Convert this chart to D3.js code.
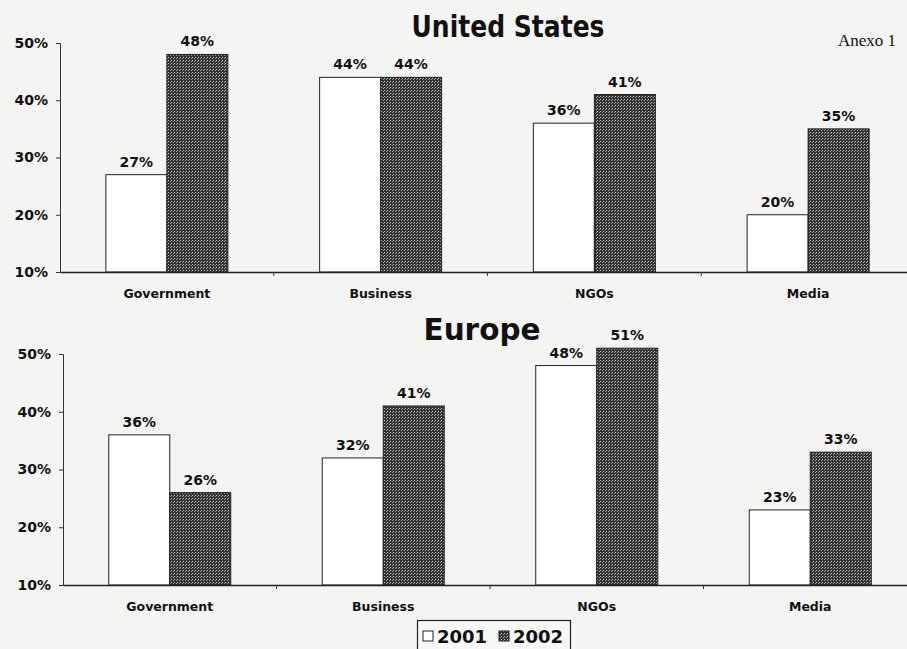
<!DOCTYPE html>
<html><head><meta charset="utf-8">
<script src="https://cdn.jsdelivr.net/npm/d3@7"></script>
<style>
html,body{margin:0;padding:0;background:#f4f4f2;}
svg{display:block;}
</style></head>
<body>
<svg id="chart" width="907" height="649"></svg>
<script>
const categories = ["Government", "Business", "NGOs", "Media"];
const seriesNames = ["2001", "2002"];
const usValues2001 = [27, 44, 36, 20];
const usValues2002 = [48, 44, 41, 35];
const euValues2001 = [36, 32, 48, 23];
const euValues2002 = [26, 41, 51, 33];
const yTicks = [10, 20, 30, 40, 50];

const svg = d3.select("#chart");
const defs = svg.append("defs");
const pat = defs.append("pattern").attr("id","dots").attr("patternUnits","userSpaceOnUse")
  .attr("width",3).attr("height",3);
pat.append("rect").attr("width",3).attr("height",3).attr("fill","#333333");
pat.append("rect").attr("x",0).attr("y",0).attr("width",1).attr("height",1).attr("fill","#c4c4c4");
pat.append("rect").attr("x",2).attr("y",1).attr("width",1).attr("height",1).attr("fill","#9c9c9c");

const fills = ["#ffffff", "url(#dots)"];
const FONT = "'DejaVu Sans', Verdana, sans-serif";

function panel(cfg){
  const g = svg.append("g");
  const x = d3.scaleBand().domain(categories).range([cfg.x0, cfg.x1]).paddingInner(0).paddingOuter(0);
  const y = d3.scaleLinear().domain([10, 50]).range([cfg.yBottom, cfg.yTop]);
  const barW = 61;
  const data = categories.map((c,i)=>({cat:c, vals:[cfg.s1[i], cfg.s2[i]]}));

  g.append("text").attr("x", cfg.titleX).attr("y", cfg.titleY)
    .attr("text-anchor","middle").attr("font-family",FONT).attr("font-weight","bold")
    .attr("font-size",30).attr("textLength",cfg.titleLen).attr("lengthAdjust","spacingAndGlyphs")
    .attr("fill","#111").text(cfg.title);

  data.forEach(d=>{
    const cx = x(d.cat) + x.bandwidth()/2;
    d.vals.forEach((v,j)=>{
      const bx = cx - barW + j*barW;
      g.append("rect").attr("x",bx).attr("y",y(v)).attr("width",barW)
        .attr("height",y(10)-y(v)).attr("fill",fills[j]).attr("stroke","#222").attr("stroke-width",1);
      g.append("text").attr("x",bx+barW/2).attr("y",y(v)-8).attr("text-anchor","middle")
        .attr("font-family",FONT).attr("font-weight","bold").attr("font-size",14)
        .attr("fill","#111").text(v+"%");
    });
  });

  const ya = g.append("g").attr("transform",`translate(${cfg.x0},0)`)
    .call(d3.axisLeft(y).tickValues(yTicks).tickFormat(d=>d+"%").tickSize(4).tickPadding(8));
  ya.select(".domain").attr("stroke","#333");
  ya.selectAll(".tick line").attr("stroke","#333");
  ya.selectAll(".tick text").attr("font-family",FONT).attr("font-weight","bold")
    .attr("font-size",14).attr("fill","#111");

  const xa = g.append("g").attr("transform",`translate(0,${cfg.yBottom})`)
    .call(d3.axisBottom(x).tickSize(0).tickPadding(17));
  xa.select(".domain").attr("stroke","#222").attr("stroke-width",1.5);
  xa.selectAll(".tick text").attr("font-family",FONT).attr("font-weight","bold")
    .attr("font-size",12.5).attr("fill","#111");
  g.selectAll(".sep").data(categories.slice(1)).enter().append("line")
    .attr("x1",d=>x(d)).attr("x2",d=>x(d)).attr("y1",cfg.yBottom).attr("y2",cfg.yBottom+4)
    .attr("stroke","#333");
}

panel({title:"United States", titleX:508, titleY:37, titleLen:193,
  x0:60, x1:915, yTop:43, yBottom:272, s1:usValues2001, s2:usValues2002});
panel({title:"Europe", titleX:482, titleY:340, titleLen:117,
  x0:63, x1:917, yTop:354, yBottom:585, s1:euValues2001, s2:euValues2002});

svg.append("text").attr("x",896).attr("y",46).attr("text-anchor","end")
  .attr("font-family","'Liberation Serif', 'Times New Roman', serif").attr("font-size",17)
  .attr("fill","#111").text("Anexo 1");

const lg = svg.append("g");
lg.append("rect").attr("x",417.5).attr("y",620.5).attr("width",153).attr("height",40)
  .attr("fill","#f7f7f5").attr("stroke","#222").attr("stroke-width",1.2);
const legX = [423, 499];
seriesNames.forEach((s,i)=>{
  lg.append("rect").attr("x",legX[i]).attr("y",631).attr("width",10).attr("height",10)
    .attr("fill",fills[i]).attr("stroke","#222");
  lg.append("text").attr("x",legX[i]+14).attr("y",643).attr("font-family",FONT)
    .attr("font-weight","bold").attr("font-size",18).attr("fill","#111").text(s);
});
</script>
</body></html>
